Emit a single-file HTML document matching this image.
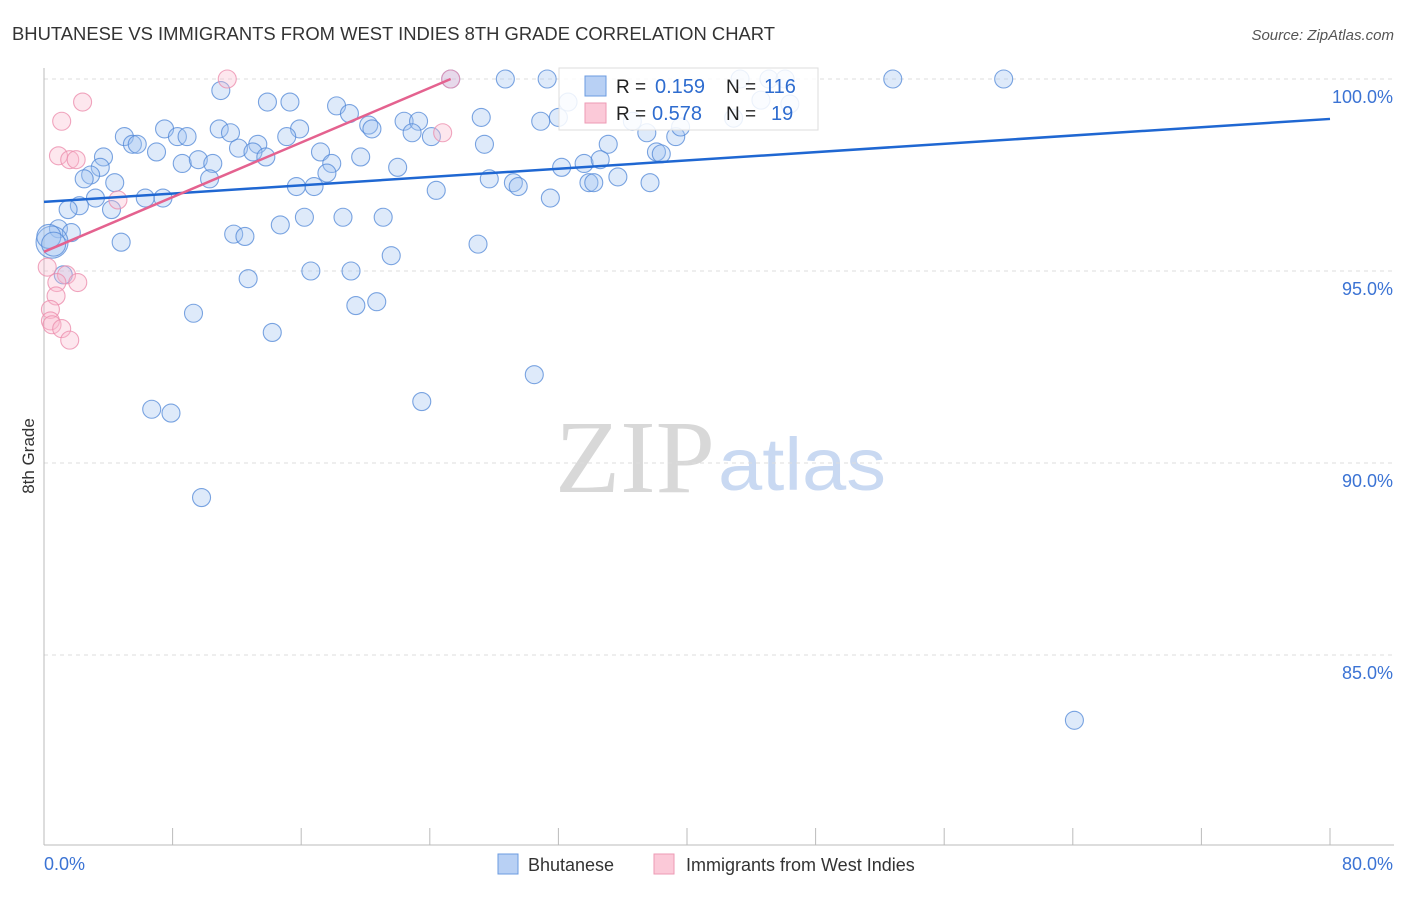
<!DOCTYPE html>
<html><head><meta charset="utf-8"><style>
body{margin:0;background:#fff;font-family:"Liberation Sans",sans-serif}
svg text{font-family:"Liberation Sans",sans-serif}
</style></head><body>
<svg width="1406" height="892" id="c">
<text x="12" y="40" font-size="18" fill="#333" textLength="763" lengthAdjust="spacingAndGlyphs">BHUTANESE VS IMMIGRANTS FROM WEST INDIES 8TH GRADE CORRELATION CHART</text>
<text x="1394" y="40" font-size="15" fill="#555" text-anchor="end" font-style="italic">Source: ZipAtlas.com</text>
<text x="715" y="492" font-size="104" fill="#d8d8d8" text-anchor="end" textLength="160" lengthAdjust="spacingAndGlyphs" style="font-family:'Liberation Serif',serif">ZIP</text>
<text x="718" y="490" font-size="74" fill="#c9d9f2" textLength="168" lengthAdjust="spacingAndGlyphs">atlas</text>
<text x="34" y="456" font-size="17" fill="#333" text-anchor="middle" transform="rotate(-90 34 456)">8th Grade</text>
<g id="grid"></g><g id="axes"></g><g id="pts"></g><g id="lines"></g>
<g>
<rect x="559" y="68" width="259" height="62" fill="#fff" fill-opacity="0.85" stroke="#ddd"/>
<rect x="585" y="76" width="21" height="20" fill="#b8d0f4" stroke="#6b9be0"/>
<rect x="585" y="103" width="21" height="20" fill="#fbc9d8" stroke="#ee9ab4"/>
<text x="616" y="93" font-size="19" fill="#222">R = </text><text x="655" y="93" font-size="20" fill="#2e6ccf">0.159</text>
<text x="726" y="93" font-size="19" fill="#222">N = </text><text x="764" y="93" font-size="20" fill="#2e6ccf">116</text>
<text x="616" y="120" font-size="19" fill="#222">R = </text><text x="652" y="120" font-size="20" fill="#2e6ccf">0.578</text>
<text x="726" y="120" font-size="19" fill="#222">N = </text><text x="771" y="120" font-size="20" fill="#2e6ccf">19</text>
</g>
<g>
<rect x="498" y="854" width="20" height="20" fill="#b8d0f4" stroke="#6b9be0"/>
<text x="528" y="871" font-size="18" fill="#333">Bhutanese</text>
<rect x="654" y="854" width="20" height="20" fill="#fbc9d8" stroke="#ee9ab4"/>
<text x="686" y="871" font-size="18" fill="#333">Immigrants from West Indies</text>
</g>
</svg>
<script>
const blueX=[25.3,28.7,31.3,52.8,59.7,43.3,45.1,46.1,32.6,11.0,13.9,15.3,18.2,19.0,27.2,30.9,32.0,22.4,23.3,20.2,20.4,7.5,10.9,11.6,15.9,5.0,8.3,8.9,15.1,22.9,24.1,13.3,5.5,5.8,7.0,12.1,13.0,17.2,27.4,35.1,37.5,39.3,36.6,39.6,3.7,8.6,9.6,10.5,13.8,19.7,17.9,38.1,38.4,33.6,34.6,3.5,22.0,32.2,17.6,2.9,2.5,4.4,10.3,27.7,29.2,29.5,33.9,34.2,35.7,37.7,15.7,16.8,24.4,3.2,6.3,7.4,31.5,2.2,1.5,4.2,16.2,21.1,18.6,14.7,0.9,1.7,11.8,12.5,4.8,27.0,0.5,21.6,16.6,19.1,1.2,12.7,19.4,20.7,9.3,14.2,30.5,6.7,7.9,23.5,9.8,64.1,42.9,44.6,46.4,0.3,0.6];
const blueY=[100,100,100,100,100,100,100,100,99.4,99.7,99.4,99.4,99.3,99.1,99.0,98.9,99.0,98.9,98.9,98.8,98.7,98.7,98.7,98.6,98.7,98.5,98.5,98.5,98.5,98.6,98.5,98.3,98.3,98.3,98.1,98.2,98.1,98.1,98.3,98.3,98.6,98.5,98.9,98.75,97.97,97.8,97.9,97.8,97.97,97.97,97.8,98.1,98.05,97.8,97.9,97.7,97.7,97.7,97.55,97.5,97.4,97.3,97.4,97.4,97.3,97.2,97.3,97.3,97.45,97.3,97.2,97.2,97.1,96.9,96.9,96.9,96.9,96.7,96.6,96.6,96.4,96.4,96.4,96.2,96.1,96.0,95.96,95.9,95.75,95.7,95.75,95.4,95.0,95.0,94.9,94.8,94.1,94.2,93.9,93.4,92.3,91.4,91.3,91.6,89.1,83.3,98.98,99.45,99.35,95.9,95.7];
const blueR=[9,9,9,9,9,9,9,9,9,9,9,9,9,9,9,9,9,9,9,9,9,9,9,9,9,9,9,9,9,9,9,9,9,9,9,9,9,9,9,9,9,9,9,9,9,9,9,9,9,9,9,9,9,9,9,9,9,9,9,9,9,9,9,9,9,9,9,9,9,9,9,9,9,9,9,9,9,9,9,9,9,9,9,9,9,9,9,9,9,9,16,9,9,9,9,9,9,9,9,9,9,9,9,9,9,9,9,9,9,12,12];
const pinkX=[11.4,25.3,2.4,1.1,24.8,0.9,1.6,2.0,4.6,0.2,1.4,2.1,0.8,0.75,0.4,0.4,0.5,1.1,1.6];
const pinkY=[100,100,99.4,98.9,98.6,98.0,97.9,97.9,96.85,95.1,94.9,94.7,94.7,94.35,94.0,93.7,93.6,93.5,93.2];
const blueTrendX=[0,80], blueTrendY=[96.8,98.96];
const pinkTrendX=[0,25.3], pinkTrendY=[95.5,100];
const yTicks=[100,95,90,85], yTickLabels=["100.0%","95.0%","90.0%","85.0%"];
const xTicks=[0,8,16,24,32,40,48,56,64,72,80];
const NS='http://www.w3.org/2000/svg';
const sx=v=>44+v*16.075, sy=v=>79+(100-v)*38.4;
function mk(tag,at,parent){const e=document.createElementNS(NS,tag);for(const k in at)e.setAttribute(k,at[k]);document.getElementById(parent).appendChild(e);return e;}
yTicks.forEach((t,i)=>{
 const l=mk('line',{x1:44,x2:1394,y1:sy(t),y2:sy(t),stroke:'#ddd','stroke-dasharray':'4,4'},'grid');
 
 
 const tx=mk('text',{x:1393,y:sy(t)+24,'font-size':18,fill:'#3b73d4','text-anchor':'end'},'grid');
 tx.textContent=yTickLabels[i];
 
 
});
const ax=mk('line',{x1:44,x2:44,y1:68,y2:845,stroke:'#bbb'},'axes');


const bx=mk('line',{x1:44,x2:1394,y1:845,y2:845,stroke:'#bbb'},'axes');


xTicks.forEach(t=>{const l=mk('line',{x1:sx(t),x2:sx(t),y1:828,y2:845,stroke:'#bbb'},'axes');
 
 });
const xl0=mk('text',{x:44,y:870,'font-size':18,fill:'#3b73d4'},'axes');xl0.textContent='0.0%';


const xl1=mk('text',{x:1393,y:870,'font-size':18,fill:'#3b73d4','text-anchor':'end'},'axes');xl1.textContent='80.0%';


blueX.forEach((x,i)=>{const c=mk('circle',{cx:sx(x),cy:sy(blueY[i]),r:blueR[i],fill:'rgba(160,195,240,0.35)',stroke:'rgba(80,135,215,0.75)','stroke-width':1.1},'pts');
 
 });
pinkX.forEach((x,i)=>{const c=mk('circle',{cx:sx(x),cy:sy(pinkY[i]),r:9,fill:'rgba(248,185,205,0.35)',stroke:'rgba(236,143,174,0.8)','stroke-width':1.1},'pts');
 
 });
const bl=mk('line',{x1:sx(blueTrendX[0]),y1:sy(blueTrendY[0]),x2:sx(blueTrendX[1]),y2:sy(blueTrendY[1]),stroke:'#1f67d2','stroke-width':2.5},'lines');


const pl=mk('line',{x1:sx(pinkTrendX[0]),y1:sy(pinkTrendY[0]),x2:sx(pinkTrendX[1]),y2:sy(pinkTrendY[1]),stroke:'#e4628f','stroke-width':2.5},'lines');


</script>
</body></html>
